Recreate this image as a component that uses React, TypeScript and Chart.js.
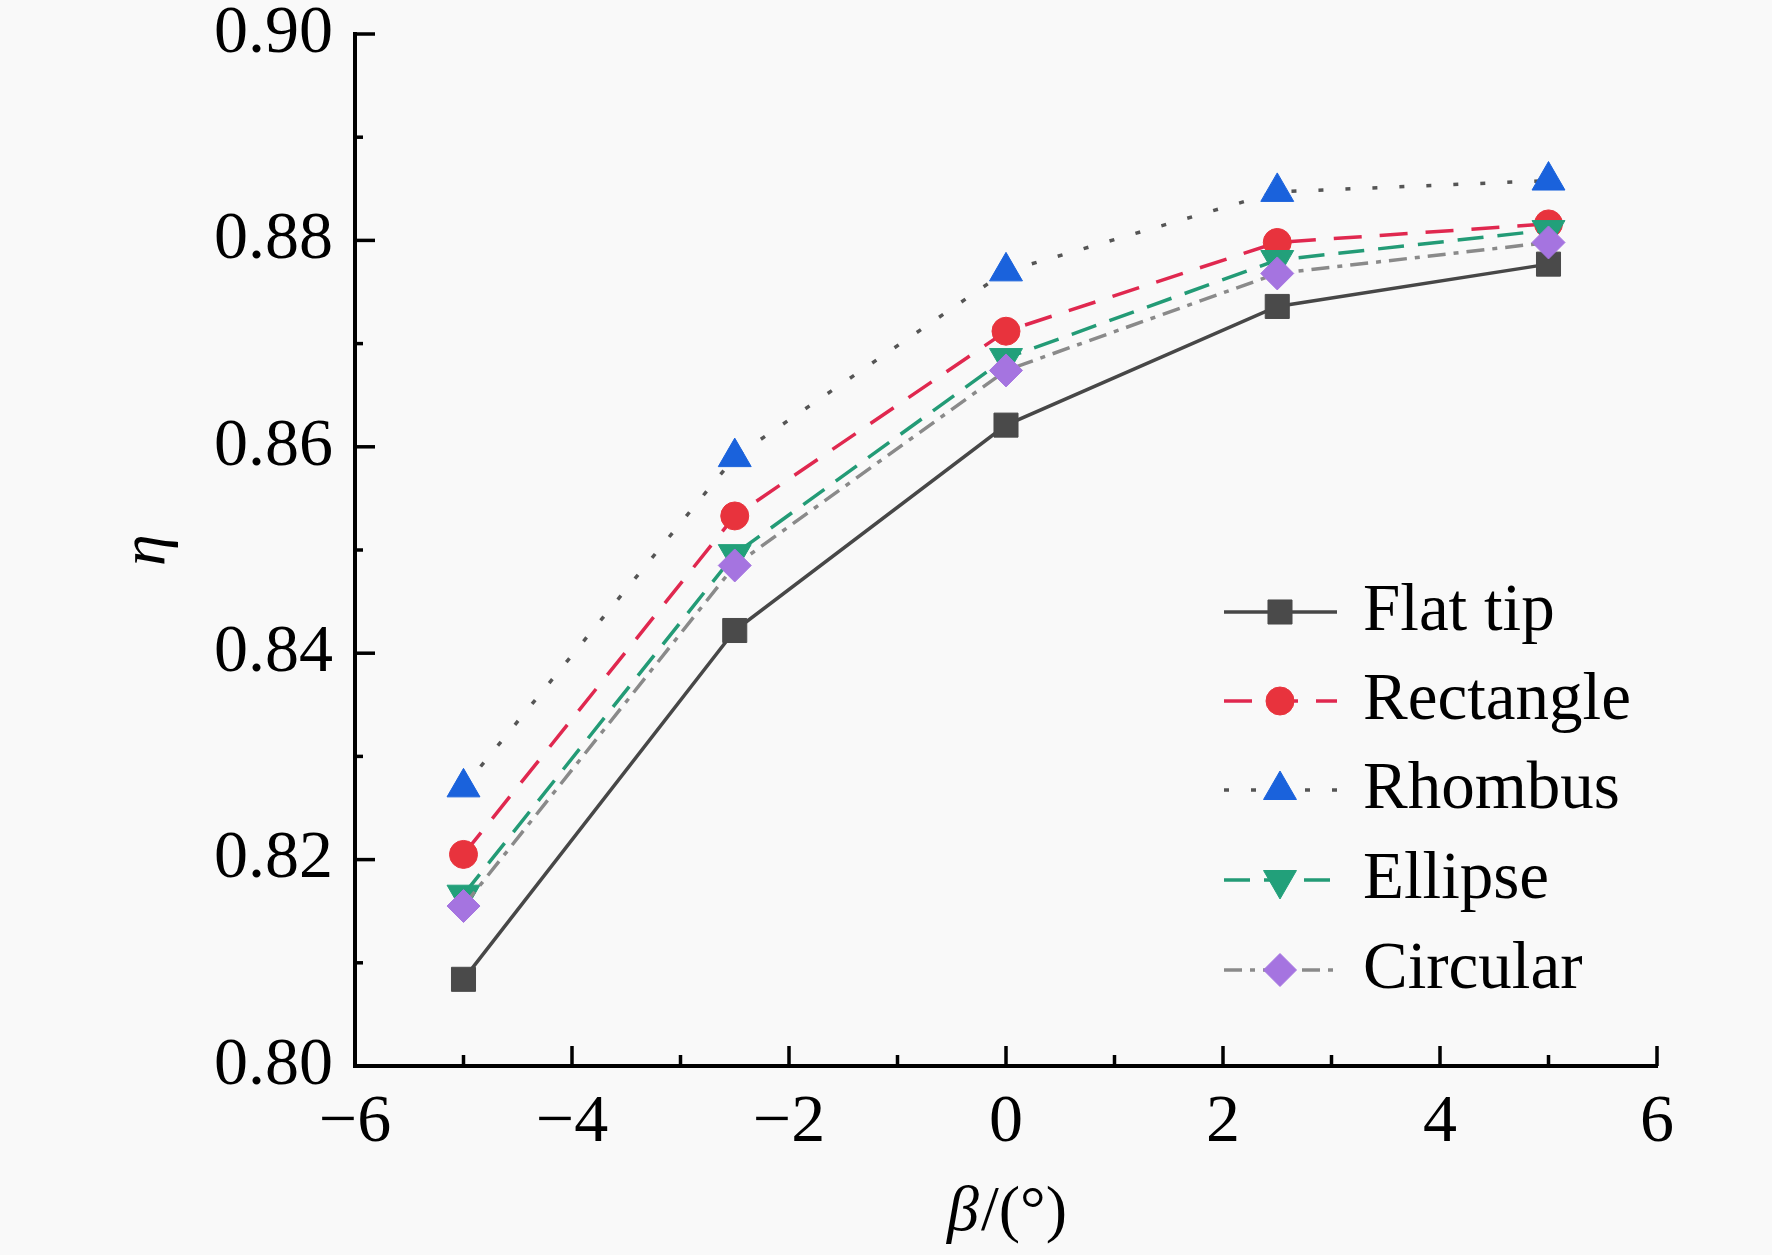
import React, { useEffect, useRef } from "react";
import { Chart, registerables } from "chart.js";
import { drawPoint } from "chart.js/helpers";

Chart.register(...registerables);

// data
const betaValues = [-5, -2.5, 0, 2.5, 5];
const flatTip = [0.8084, 0.8422, 0.8621, 0.8736, 0.8777];
const rectangle = [0.8205, 0.8533, 0.8712, 0.8798, 0.8816];
const rhombus = [0.827, 0.859, 0.877, 0.8847, 0.8858];
const ellipse = [0.8166, 0.8496, 0.8686, 0.8781, 0.881];
const circular = [0.8155, 0.8485, 0.8674, 0.8768, 0.8798];
const seriesNames = ["Flat tip", "Rectangle", "Rhombus", "Ellipse", "Circular"];
const xRange = [-6, 6];
const yRange = [0.8, 0.9];

const W = 1772;
const H = 1255;
const FONT = "'Liberation Serif', 'Times New Roman', serif";
const TICK_FS = 68;
const LEG_FS = 67;
const TITLE_FS = 64;

const styles = [
  { line: "#474747", marker: "#4a4a4a", dash: [], shape: "rect", radius: 17, rot: 0 },
  { line: "#e0284f", marker: "#e8333d", dash: [28, 18], shape: "circle", radius: 14, rot: 0 },
  { line: "#555555", marker: "#1a62dc", dash: [5, 22], shape: "triangle", radius: 19, rot: 0 },
  { line: "#239b76", marker: "#22a07a", dash: [26, 14], shape: "triangle", radius: 19, rot: 180 },
  { line: "#8a8a8a", marker: "#a574e0", dash: [18, 8, 5, 8], shape: "rectRot", radius: 16.5, rot: 0 }
];

const decor = {
  id: "decor",
  afterDraw(chart: any) {
    const ctx = chart.ctx as CanvasRenderingContext2D;
    const xs = chart.scales.x;
    const ys = chart.scales.y;
    ctx.save();
    // inward ticks
    ctx.strokeStyle = "#000";
    ctx.lineWidth = 3.5;
    for (let v = xRange[0]; v <= xRange[1]; v++) {
      const px = xs.getPixelForValue(v);
      const len = v % 2 === 0 ? 20 : 11;
      ctx.beginPath();
      ctx.moveTo(px, ys.bottom);
      ctx.lineTo(px, ys.bottom - len);
      ctx.stroke();
    }
    for (let i = 0; i <= 10; i++) {
      const py = ys.getPixelForValue(yRange[0] + i * 0.01);
      const len = i % 2 === 0 ? 20 : 8;
      ctx.beginPath();
      ctx.moveTo(xs.left, py);
      ctx.lineTo(xs.left + len, py);
      ctx.stroke();
    }

    // axis titles
    ctx.fillStyle = "#000";
    ctx.textBaseline = "middle";
    ctx.save();
    ctx.translate(147, (ys.top + ys.bottom) / 2);
    ctx.rotate(-Math.PI / 2);
    ctx.textAlign = "center";
    ctx.font = `italic ${TITLE_FS}px ${FONT}`;
    ctx.fillText("η", 0, 0);
    ctx.restore();

    ctx.font = `italic ${TITLE_FS}px ${FONT}`;
    const b = "β";
    const bw = ctx.measureText(b).width;
    ctx.font = `${TITLE_FS}px ${FONT}`;
    const rest = "/(°)";
    const rw = ctx.measureText(rest).width;
    const cx = (xs.left + xs.right) / 2;
    const start = cx - (bw + rw) / 2;
    ctx.textAlign = "left";
    ctx.font = `italic ${TITLE_FS}px ${FONT}`;
    ctx.fillText(b, start, 1213);
    ctx.font = `${TITLE_FS}px ${FONT}`;
    ctx.fillText(rest, start + bw + 2, 1213);

    // legend
    const rows = [612, 701, 790, 880, 970];
    chart.data.datasets.forEach((ds: any, i: number) => {
      const y = rows[i];
      ctx.save();
      ctx.strokeStyle = ds.borderColor;
      ctx.lineWidth = ds.borderWidth;
      ctx.setLineDash(ds.borderDash || []);
      ctx.beginPath();
      ctx.moveTo(1224, y);
      ctx.lineTo(1337, y);
      ctx.stroke();
      ctx.setLineDash([]);
      ctx.fillStyle = ds.pointBackgroundColor;
      ctx.strokeStyle = ds.pointBorderColor;
      ctx.lineWidth = 1;
      drawPoint(ctx, { pointStyle: ds.pointStyle, radius: ds.pointRadius, rotation: ds.pointRotation, borderWidth: 1 }, 1280, y);
      ctx.restore();
      ctx.fillStyle = "#000";
      ctx.font = `${LEG_FS}px ${FONT}`;
      ctx.textAlign = "left";
      ctx.textBaseline = "middle";
      ctx.fillText(ds.label, 1363, y);
    });
    ctx.restore();
  }
};

const App: React.FC = () => {
  const chartRef = useRef<HTMLCanvasElement>(null);
  const chartInstance = useRef<Chart>();

  useEffect(() => {
    if (!chartRef.current) return;
    const ctx = chartRef.current.getContext("2d");
    if (!ctx) return;
    if (chartInstance.current) chartInstance.current.destroy();

    const allSeries = [flatTip, rectangle, rhombus, ellipse, circular];
    const datasets = allSeries.map((vals, i) => ({
      label: seriesNames[i],
      data: betaValues.map((b, j) => ({ x: b, y: vals[j] })),
      borderColor: styles[i].line,
      backgroundColor: styles[i].marker,
      borderDash: styles[i].dash,
      borderWidth: 3.5,
      pointStyle: styles[i].shape,
      pointRadius: styles[i].radius,
      pointRotation: styles[i].rot,
      pointBackgroundColor: styles[i].marker,
      pointBorderColor: styles[i].marker,
      pointBorderWidth: 1,
      tension: 0,
      order: 4 - i
    }));

    chartInstance.current = new Chart(ctx, {
      type: "line",
      data: { datasets },
      options: {
        animation: false,
        responsive: false,
        devicePixelRatio: 1,
        layout: { padding: { left: 0, top: 34, right: W - 1657, bottom: 0 } },
        plugins: { legend: { display: false }, tooltip: { enabled: false } },
        scales: {
          x: {
            type: "linear",
            min: xRange[0],
            max: xRange[1],
            grid: { display: false, drawTicks: false },
            border: { display: true, color: "#000", width: 4 },
            ticks: {
              stepSize: 2,
              padding: 16,
              color: "#000",
              font: { family: FONT, size: TICK_FS },
              callback: (v: any) => (v < 0 ? "\u2212" + Math.abs(v) : String(v))
            },
            afterFit: (s: any) => {
              s.height = H - 1066;
              s.paddingLeft = 0;
              s.paddingRight = 0;
            }
          },
          y: {
            min: yRange[0],
            max: yRange[1],
            grid: { display: false, drawTicks: false },
            border: { display: true, color: "#000", width: 4 },
            ticks: {
              stepSize: 0.02,
              padding: 22,
              color: "#000",
              font: { family: FONT, size: TICK_FS },
              callback: (v: any) => Number(v).toFixed(2)
            },
            afterFit: (s: any) => {
              s.width = 355;
              s.paddingTop = 0;
              s.paddingBottom = 0;
            }
          }
        }
      },
      plugins: [decor]
    } as any);

    return () => {
      if (chartInstance.current) {
        chartInstance.current.destroy();
        chartInstance.current = undefined;
      }
    };
  }, []);

  return (
    <div style={{ position: "absolute", left: 0, top: 0, width: W, height: H, background: "#f9f9f9" }}>
      <canvas ref={chartRef} width={W} height={H} style={{ width: W, height: H }} />
    </div>
  );
};

export default App;
